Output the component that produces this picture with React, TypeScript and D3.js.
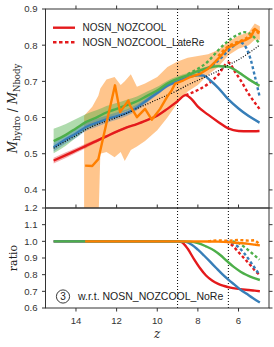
import React from "react";
import * as d3 from "d3";

const W = 274, H = 347;
const L = 45.5, R = 269, T1 = 9, B1 = 208, B2 = 308;

const xTicks = [14, 12, 10, 8, 6];
const yTicksTop = [0.4, 0.5, 0.6, 0.7, 0.8, 0.9];
const yTicksBot = [0.6, 0.7, 0.8, 0.9, 1.0, 1.1, 1.2];
const reionZ = [9, 6.5];
const legendLabels = ["NOSN_NOZCOOL", "NOSN_NOZCOOL_LateRe"];
const annotation = "w.r.t. NOSN_NOZCOOL_NoRe";

// ---- top panel series ----
const zRed = [15.1, 14.5, 14, 13.5, 13, 12.5, 12, 11.5, 11, 10.5, 10, 9.5, 9, 8.6, 8.3, 8, 7.5, 7, 6.5, 6, 5.5, 4.97];
const red = [0.481, 0.496, 0.509, 0.522, 0.535, 0.548, 0.561, 0.573, 0.582, 0.593, 0.605, 0.624, 0.645, 0.662, 0.65, 0.63, 0.608, 0.588, 0.57, 0.563, 0.562, 0.563];
const redErr = [0.008, 0.008, 0.007, 0.006, 0.005, 0.004, 0.003, 0.003, 0.002, 0.002, 0.002, 0.002, 0.002, 0.002, 0.002, 0.002, 0.002, 0.002, 0.002, 0.002, 0.002, 0.002];

const zBlue = [15.1, 14.5, 14, 13.5, 13, 12.5, 12, 11.5, 11, 10.5, 10, 9.5, 9, 8.5, 8, 7.7, 7.4, 7, 6.5, 6, 5.5, 4.97];
const blue = [0.518, 0.54, 0.556, 0.574, 0.585, 0.595, 0.604, 0.613, 0.628, 0.648, 0.668, 0.688, 0.7, 0.711, 0.717, 0.716, 0.703, 0.682, 0.65, 0.625, 0.604, 0.586];
const blueErr = [0.012, 0.012, 0.012, 0.011, 0.011, 0.01, 0.01, 0.009, 0.008, 0.007, 0.006, 0.005, 0.004, 0.003, 0.003, 0.003, 0.003, 0.003, 0.003, 0.003, 0.003, 0.003];

const zGreen = [15.1, 14.5, 14, 13.5, 13, 12.5, 12, 11.5, 11, 10.5, 10, 9.5, 9, 8.5, 8, 7.5, 7, 6.5, 6, 5.5, 4.97];
const green = [0.535, 0.552, 0.57, 0.588, 0.6, 0.614, 0.624, 0.634, 0.645, 0.66, 0.675, 0.694, 0.707, 0.717, 0.728, 0.737, 0.742, 0.74, 0.725, 0.706, 0.688];
const greenErr = [0.034, 0.03, 0.026, 0.022, 0.02, 0.018, 0.016, 0.015, 0.013, 0.012, 0.01, 0.008, 0.007, 0.006, 0.005, 0.005, 0.004, 0.004, 0.004, 0.004, 0.004];

const zOrange = [13.55, 13.2, 12.9, 12.08, 11.83, 11.42, 11.34, 11.0, 10.6, 10.27, 9.86, 9.53, 9.29, 9.12, 8.71, 8.38, 7.89, 7.5, 7.15, 6.8, 6.5, 6.2, 5.9, 5.67, 5.4, 5.2, 4.97];
const orange = [0.467, 0.466, 0.485, 0.689, 0.615, 0.647, 0.633, 0.601, 0.624, 0.594, 0.624, 0.656, 0.675, 0.694, 0.703, 0.712, 0.721, 0.735, 0.754, 0.775, 0.795, 0.8, 0.81, 0.814, 0.822, 0.845, 0.835];
const zOrangeBand = [13.6, 13.2, 12.9, 12.8, 12.5, 12.1, 11.8, 11.6, 11.3, 11.0, 10.6, 10.0, 9.5, 9.0, 8.5, 8.0, 7.5, 7.0, 6.5, 6.0, 5.5, 5.2, 4.95];
const orangeLo = [0.3, 0.3, 0.3, 0.5, 0.505, 0.49, 0.505, 0.48, 0.51, 0.52, 0.535, 0.565, 0.6, 0.64, 0.672, 0.69, 0.718, 0.74, 0.772, 0.79, 0.8, 0.815, 0.815];
const orangeHi = [0.605, 0.63, 0.66, 0.68, 0.705, 0.712, 0.69, 0.7, 0.72, 0.685, 0.694, 0.712, 0.74, 0.755, 0.765, 0.77, 0.775, 0.787, 0.81, 0.826, 0.836, 0.86, 0.852];

const zNoRe = [15.1, 14.5, 14, 13.5, 13, 12.5, 12, 11.5, 11, 10.5, 10, 9.5, 9, 8.5, 8, 7.5, 7, 6.5, 6, 5.5, 4.97];
const noRe = [0.515, 0.535, 0.55, 0.567, 0.58, 0.59, 0.6, 0.612, 0.625, 0.637, 0.65, 0.662, 0.675, 0.69, 0.703, 0.716, 0.729, 0.745, 0.76, 0.778, 0.8];

const zRedLate = [8.6, 8.0, 7.5, 7.0, 6.5, 6.17, 5.84, 5.51, 5.25, 4.97];
const redLate = [0.662, 0.676, 0.693, 0.718, 0.752, 0.726, 0.698, 0.666, 0.645, 0.624];
const zBlueLate = [8.0, 7.5, 7.2, 6.8, 6.5, 6.2, 6.0, 5.8, 5.6, 5.4, 5.2, 4.97];
const blueLate = [0.722, 0.737, 0.748, 0.768, 0.785, 0.8, 0.808, 0.805, 0.79, 0.76, 0.715, 0.66];
const zGreenLate = [8.5, 8, 7.5, 7.3, 7.0, 6.5, 6.0, 5.7, 5.4, 5.2, 4.97];
const greenLate = [0.72, 0.735, 0.755, 0.767, 0.786, 0.812, 0.83, 0.836, 0.83, 0.82, 0.805];
const zOrangeLate = [7.0, 6.5, 6.2, 5.9, 5.67, 5.4, 5.25, 5.1, 4.97];
const orangeLate = [0.77, 0.797, 0.806, 0.812, 0.818, 0.83, 0.842, 0.838, 0.83];

// ---- bottom panel ratios ----
const zRatioRed = [15.1, 9, 8.8, 8.5, 8.2, 7.9, 7.6, 7.3, 7.0, 6.7, 6.4, 6.1, 5.8, 5.5, 5.2, 4.95];
const ratioRed = [1.0, 1.0, 0.995, 0.955, 0.895, 0.84, 0.795, 0.765, 0.745, 0.732, 0.722, 0.716, 0.712, 0.708, 0.704, 0.7];
const zRatioBlue = [15.1, 9, 8.6, 8.3, 8.0, 7.7, 7.4, 7.1, 6.8, 6.5, 6.2, 5.9, 5.6, 5.3, 4.95];
const ratioBlue = [1.0, 1.0, 0.997, 0.98, 0.95, 0.915, 0.878, 0.84, 0.803, 0.77, 0.74, 0.71, 0.685, 0.66, 0.633];
const zRatioGreen = [15.1, 9, 8.4, 8.0, 7.6, 7.2, 6.9, 6.6, 6.25, 5.9, 5.6, 5.3, 4.95];
const ratioGreen = [1.0, 1.0, 0.998, 0.99, 0.97, 0.945, 0.918, 0.885, 0.848, 0.818, 0.798, 0.782, 0.768];
const zRatioOrange = [13.55, 9, 7.5, 7.0, 6.5, 6.0, 5.5, 5.2, 4.95];
const ratioOrange = [1.0, 1.0, 0.999, 0.998, 0.995, 0.99, 0.985, 0.98, 0.976];
const zRatioRedLate = [6.6, 6.3, 6.0, 5.7, 5.4, 5.2, 4.97];
const ratioRedLate = [1.0, 0.975, 0.935, 0.895, 0.855, 0.825, 0.8];
const zRatioBlueLate = [6.6, 6.3, 6.0, 5.7, 5.4, 5.2, 4.97];
const ratioBlueLate = [1.0, 0.99, 0.965, 0.925, 0.875, 0.84, 0.8];
const zRatioGreenLate = [6.3, 6.0, 5.7, 5.4, 5.2, 4.97];
const ratioGreenLate = [1.0, 0.99, 0.965, 0.935, 0.915, 0.89];
const zRatioOrangeLate = [7.5, 7.0, 6.5, 6.0, 5.5, 5.2, 4.97];
const ratioOrangeLate = [1.0, 1.006, 1.003, 1.008, 1.004, 1.007, 0.985];

const C = { red: "#e41a1c", blue: "#377eb8", green: "#4daf4a", orange: "#ff7f00" };
const AX = "#333333";
const SANS = "'Liberation Sans', Arial, sans-serif";
const SERIF = "'DejaVu Serif', serif";

const x = d3.scaleLinear().domain([15.5, 4.5]).range([L, R]);
const yT = d3.scaleLinear().domain([0.35, 0.9]).range([B1, T1]);
const yB = d3.scaleLinear().domain([0.6, 1.2]).range([B2, B1]);

type P = [number, number];
const zip = (zs: number[], vs: number[]): P[] => zs.map((z, i) => [z, vs[i]]);

function linePath(zs: number[], vs: number[], y: d3.ScaleLinear<number, number>, curve = d3.curveMonotoneX) {
  return d3.line<P>().x(d => x(d[0])).y(d => y(d[1])).curve(curve)(zip(zs, vs)) || "";
}
function bandPath(zs: number[], lo: number[], hi: number[], y: d3.ScaleLinear<number, number>, curve = d3.curveMonotoneX) {
  const pts = zs.map((z, i) => ({ z, lo: lo[i], hi: hi[i] }));
  return d3.area<{ z: number; lo: number; hi: number }>().x(d => x(d.z)).y0(d => y(d.lo)).y1(d => y(d.hi)).curve(curve)(pts) || "";
}

export default function App() {
  const sw = 2.4;
  const dash = "3,2.4";
  const errBand = (zs: number[], v: number[], e: number[]) =>
    bandPath(zs, v.map((a, i) => a - e[i]), v.map((a, i) => a + e[i]), yT);

  const tick = 3.5;
  return (
    <svg width={W} height={H} style={{ display: "block", position: "absolute", left: 0, top: 0 }}>
      <defs>
        <clipPath id="clipT"><rect x={L} y={T1} width={R - L} height={B1 - T1} /></clipPath>
        <clipPath id="clipB"><rect x={L} y={B1} width={R - L} height={B2 - B1} /></clipPath>
      </defs>
      <rect x={0} y={0} width={W} height={H} fill="#fff" />

      {/* top panel */}
      <g clipPath="url(#clipT)">
        <path d={bandPath(zOrangeBand, orangeLo, orangeHi, yT, d3.curveLinear)} fill={C.orange} fillOpacity={0.45} />
        <path d={errBand(zGreen, green, greenErr)} fill={C.green} fillOpacity={0.45} />
        <path d={errBand(zBlue, blue, blueErr)} fill={C.blue} fillOpacity={0.4} />
        <path d={errBand(zRed, red, redErr)} fill={C.red} fillOpacity={0.35} />
        {reionZ.map(z => (
          <line key={z} x1={x(z)} x2={x(z)} y1={T1} y2={B1} stroke="#000" strokeWidth={1} strokeDasharray="1,2" />
        ))}
        <path d={linePath(zRedLate, redLate, yT)} fill="none" stroke={C.red} strokeWidth={sw} strokeDasharray={dash} />
        <path d={linePath(zBlueLate, blueLate, yT)} fill="none" stroke={C.blue} strokeWidth={sw} strokeDasharray={dash} />
        <path d={linePath(zGreenLate, greenLate, yT)} fill="none" stroke={C.green} strokeWidth={sw} strokeDasharray={dash} />
        <path d={linePath(zOrangeLate, orangeLate, yT)} fill="none" stroke={C.orange} strokeWidth={sw} strokeDasharray={dash} />
        <path d={linePath(zRed, red, yT)} fill="none" stroke={C.red} strokeWidth={sw} />
        <path d={linePath(zBlue, blue, yT)} fill="none" stroke={C.blue} strokeWidth={sw} />
        <path d={linePath(zGreen, green, yT)} fill="none" stroke={C.green} strokeWidth={sw} />
        <path d={linePath(zNoRe, noRe, yT)} fill="none" stroke="#000" strokeWidth={1.2} strokeDasharray="1,1.6" />
        <path d={linePath(zOrange, orange, yT, d3.curveLinear)} fill="none" stroke={C.orange} strokeWidth={sw} strokeLinejoin="round" />
      </g>

      {/* bottom panel */}
      <g clipPath="url(#clipB)">
        {reionZ.map(z => (
          <line key={z} x1={x(z)} x2={x(z)} y1={B1} y2={B2} stroke="#000" strokeWidth={1} strokeDasharray="1,2" />
        ))}
        <path d={linePath(zRatioRedLate, ratioRedLate, yB)} fill="none" stroke={C.red} strokeWidth={sw} strokeDasharray={dash} />
        <path d={linePath(zRatioBlueLate, ratioBlueLate, yB)} fill="none" stroke={C.blue} strokeWidth={sw} strokeDasharray={dash} />
        <path d={linePath(zRatioGreenLate, ratioGreenLate, yB)} fill="none" stroke={C.green} strokeWidth={sw} strokeDasharray={dash} />
        <path d={linePath(zRatioRed, ratioRed, yB)} fill="none" stroke={C.red} strokeWidth={sw} />
        <path d={linePath(zRatioBlue, ratioBlue, yB)} fill="none" stroke={C.blue} strokeWidth={sw} />
        <path d={linePath(zRatioGreen, ratioGreen, yB)} fill="none" stroke={C.green} strokeWidth={sw} />
        <path d={linePath(zRatioOrangeLate, ratioOrangeLate, yB, d3.curveLinear)} fill="none" stroke={C.orange} strokeWidth={sw} strokeDasharray={dash} />
        <path d={linePath(zRatioOrange, ratioOrange, yB)} fill="none" stroke={C.orange} strokeWidth={sw} />
      </g>

      {/* frames */}
      <rect x={L} y={T1} width={R - L} height={B1 - T1} fill="none" stroke={AX} strokeWidth={1} />
      <rect x={L} y={B1} width={R - L} height={B2 - B1} fill="none" stroke={AX} strokeWidth={1} />

      {/* y ticks top */}
      {yTicksTop.map(v => (
        <g key={"yt" + v}>
          <line x1={L - tick} x2={L} y1={yT(v)} y2={yT(v)} stroke={AX} />
          <line x1={R} x2={R + tick} y1={yT(v)} y2={yT(v)} stroke={AX} />
          <text x={L - 8} y={yT(v)} dy="0.35em" textAnchor="end" fontFamily={SANS} fontSize={9.6} fill={AX}>{v.toFixed(1)}</text>
        </g>
      ))}
      {/* y ticks bottom */}
      {yTicksBot.map(v => (
        <g key={"yb" + v}>
          <line x1={L - tick} x2={L} y1={yB(v)} y2={yB(v)} stroke={AX} />
          <line x1={R} x2={R + tick} y1={yB(v)} y2={yB(v)} stroke={AX} />
          <text x={L - 8} y={yB(v)} dy="0.35em" textAnchor="end" fontFamily={SANS} fontSize={9.6} fill={AX}>{v.toFixed(1)}</text>
        </g>
      ))}
      {/* x ticks */}
      {xTicks.map(z => (
        <g key={"x" + z}>
          <line x1={x(z)} x2={x(z)} y1={T1 - tick} y2={T1} stroke={AX} />
          <line x1={x(z)} x2={x(z)} y1={B1 - tick} y2={B1} stroke={AX} />
          <line x1={x(z)} x2={x(z)} y1={B2} y2={B2 + tick} stroke={AX} />
          <text x={x(z)} y={B2 + 16} textAnchor="middle" fontFamily={SANS} fontSize={9.6} fill={AX}>{z}</text>
        </g>
      ))}

      {/* axis labels */}
      <text transform={`translate(17,${(T1 + B1) / 2}) rotate(-90)`} textAnchor="middle" fontFamily={SERIF} fontSize={12} fill="#222">
        <tspan fontStyle="italic">M</tspan>
        <tspan fontSize={8.5} dy={2.5}>hydro</tspan>
        <tspan dy={-2.5}>{" / "}</tspan>
        <tspan fontStyle="italic">M</tspan>
        <tspan fontSize={8.5} dy={2.5}>Nbody</tspan>
      </text>
      <text transform={`translate(17,${(B1 + B2) / 2}) rotate(-90)`} textAnchor="middle" fontFamily={SERIF} fontSize={11} fill="#222">ratio</text>
      <text x={x(10)} y={B2 + 30} textAnchor="middle" fontFamily={SERIF} fontStyle="italic" fontSize={12} fill="#222">z</text>

      {/* legend */}
      {legendLabels.map((lab, i) => (
        <g key={lab}>
          <line x1={53} x2={75} y1={27.7 + i * 14.6} y2={27.7 + i * 14.6} stroke={C.red} strokeWidth={sw} strokeDasharray={i === 1 ? "3.5,2.5" : undefined} />
          <text x={82.5} y={27.7 + i * 14.6} dy="0.35em" fontFamily={SANS} fontSize={10} fill="#222">{lab}</text>
        </g>
      ))}

      {/* annotation */}
      <circle cx={63} cy={296.5} r={6.6} fill="none" stroke="#222" strokeWidth={0.9} />
      <text x={63} y={296.5} dy="0.36em" textAnchor="middle" fontFamily={SANS} fontSize={10} fill="#222">3</text>
      <text x={78} y={296.5} dy="0.35em" fontFamily={SANS} fontSize={10.5} fill="#222">{annotation}</text>
    </svg>
  );
}
